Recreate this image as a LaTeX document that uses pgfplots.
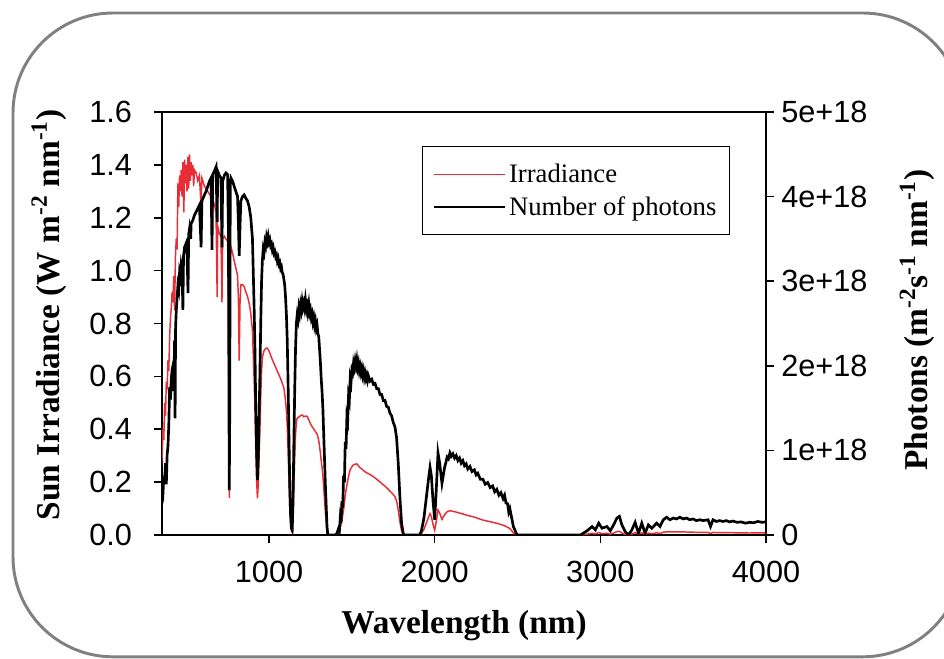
\documentclass[border=0pt]{standalone}
\usepackage{fontspec}
\setmainfont{Liberation Serif}
\newfontfamily\arialf{Liberation Sans}
\usepackage{pgfplots}
\pgfplotsset{compat=1.18}
\definecolor{irrred}{RGB}{232,45,55}
\definecolor{framegray}{RGB}{128,128,128}
\begin{document}
\begin{tikzpicture}
\path[use as bounding box] (0pt,0pt) rectangle (708pt,493.5pt);
\draw[framegray, line width=2.2pt, rounded corners=75pt] (9.75pt,0.9pt) rectangle (722pt,483.75pt);
\pgfplotsset{
  common/.style={
    at={(121.5pt,92.25pt)}, anchor=south west,
    width=453pt, height=317.25pt, scale only axis,
    xmin=354, xmax=4000,
    tick align=outside, major tick length=6pt,
    tick style={black, line width=1.2pt},
    ticklabel style={font=\arialf\fontsize{23}{27}\selectfont},
    label style={font=\bfseries\fontsize{25}{30}\selectfont},
  }
}
\begin{axis}[common,
  axis line style={line width=1pt},
  ymin=0, ymax=1.6,
  xtick={1000,2000,3000,4000}, xticklabels={1000,2000,3000,4000},
  ytick={0,0.2,0.4,0.6,0.8,1.0,1.2,1.4,1.6},
  yticklabels={0.0,0.2,0.4,0.6,0.8,1.0,1.2,1.4,1.6},
  xticklabel style={yshift=-10pt},
  yticklabel style={xshift=-13pt},
  xtick pos=bottom, ytick pos=left,
  xlabel={Wavelength (nm)},
  ylabel={Sun Irradiance (W m\textsuperscript{-2} nm\textsuperscript{-1})},
  xlabel style={at={(axis description cs:0.5,-0.232)}, anchor=base},
  ylabel style={at={(axis description cs:-0.1705,0.52)}, anchor=base},
]
\addplot[irrred, line width=1.1pt] coordinates {
(350,0.26) (355,0.30) (360,0.40) (365,0.36) (370,0.50) (375,0.45) (380,0.58) (385,0.55)
(390,0.66) (395,0.62) (400,0.75) (405,0.82) (410,0.86) (415,0.92) (420,0.88) (425,0.98)
(430,0.85) (435,1.05) (440,1.12) (445,1.08) (450,1.33) (455,1.24) (460,1.36) (465,1.30)
(470,1.38) (475,1.28) (480,1.41) (486,1.22) (490,1.42) (495,1.33) (500,1.40) (505,1.30)
(510,1.43) (515,1.31) (520,1.44) (525,1.34) (530,1.41) (535,1.36) (540,1.40) (545,1.32)
(550,1.38) (560,1.37) (570,1.34) (580,1.36) (589,1.25) (595,1.35) (610,1.32) (620,1.31)
(630,1.30) (640,1.29) (650,1.28) (656,1.10) (660,1.27) (670,1.25) (680,1.22) (687,0.90)
(690,1.17) (700,1.14) (710,1.13) (716,0.88) (720,1.12) (730,1.13) (740,1.12) (750,1.11)
(755,0.85) (760,0.14) (763,0.50) (766,1.05) (770,1.09) (780,1.066) (790,1.037) (800,1.009)
(810,0.982) (815,0.90) (820,0.66) (825,0.88) (830,0.946) (840,0.947) (850,0.940) (860,0.92)
(870,0.903) (880,0.877) (890,0.838) (900,0.773) (905,0.68) (910,0.59) (915,0.48) (920,0.324)
(925,0.21) (930,0.139) (935,0.19) (940,0.296) (945,0.40) (950,0.523) (955,0.62) (960,0.673)
(970,0.697) (980,0.706) (990,0.707) (1000,0.696) (1010,0.679) (1020,0.663) (1030,0.649)
(1040,0.635) (1050,0.619) (1060,0.606) (1070,0.591) (1080,0.574) (1090,0.556) (1100,0.506)
(1105,0.468) (1110,0.414) (1115,0.32) (1120,0.213) (1125,0.106) (1130,0.044) (1135,0.014)
(1140,0.010) (1145,0.07) (1150,0.19) (1155,0.29) (1160,0.377) (1165,0.427) (1170,0.442)
(1180,0.446) (1190,0.451) (1200,0.454) (1210,0.447) (1220,0.450) (1230,0.449) (1240,0.436)
(1250,0.421) (1260,0.410) (1270,0.401) (1280,0.391) (1290,0.382) (1300,0.359) (1305,0.335)
(1310,0.311) (1315,0.281) (1320,0.256) (1325,0.226) (1330,0.18) (1335,0.134) (1340,0.089)
(1345,0.052) (1350,0.015) (1355,0) (1400,0) (1410,0.003) (1420,0.011) (1430,0.028)
(1440,0.055) (1450,0.096) (1460,0.150) (1470,0.189) (1480,0.222) (1490,0.247) (1500,0.258)
(1510,0.266) (1520,0.268) (1530,0.269) (1540,0.262) (1550,0.254) (1560,0.250) (1570,0.244)
(1580,0.239) (1590,0.235) (1600,0.232) (1620,0.225) (1640,0.216) (1660,0.206) (1680,0.195)
(1700,0.185) (1720,0.173) (1740,0.160) (1760,0.145) (1770,0.129) (1780,0.095) (1790,0.050)
(1800,0.015) (1810,0.002) (1815,0) (1910,0) (1920,0.005) (1935,0.021) (1950,0.046)
(1965,0.071) (1972,0.081) (1980,0.070) (1990,0.040) (2000,0.018) (2010,0.054) (2020,0.095)
(2030,0.083) (2044,0.059) (2060,0.077) (2075,0.088) (2092,0.092) (2110,0.0895) (2130,0.0868)
(2150,0.0832) (2170,0.0797) (2190,0.0753) (2213,0.0719) (2240,0.0675) (2260,0.0633)
(2291,0.0564) (2320,0.0523) (2350,0.0482) (2375,0.0444) (2400,0.0398) (2413,0.0371)
(2430,0.0327) (2440,0.0293) (2454,0.0243) (2465,0.0161) (2475,0.008) (2484,0.0048)
(2495,0.001) (2500,0) (2880,0) (2920,0.0034) (2950,0.0067) (2970,0.004) (2990,0.0093)
(3010,0.0053) (3040,0.0065) (3060,0.0032) (3080,0.0077) (3100,0.0128) (3115,0.014)
(3130,0.0076) (3150,0.0025) (3170,0) (3190,0.0037) (3210,0.0093) (3230,0.0012) (3250,0.0086)
(3270,0.0012) (3290,0.0073) (3310,0.0048) (3340,0.0083) (3360,0.0059) (3380,0.0106)
(3400,0.0123) (3440,0.0116) (3480,0.012) (3520,0.0113) (3560,0.0106) (3600,0.0099)
(3650,0.0098) (3665,0.0054) (3680,0.0097) (3720,0.0091) (3760,0.009) (3800,0.0086)
(3850,0.008) (3900,0.0076) (3950,0.008) (4000,0.0077)
};
\end{axis}
\begin{axis}[common,
  axis x line=none, axis y line*=right,
  axis line style={line width=1pt},
  ymin=0, ymax=5,
  ytick={0,1,2,3,4,5},
  yticklabels={0,1e+18,2e+18,3e+18,4e+18,5e+18},
  yticklabel style={xshift=2pt},
  ylabel={Photons (m\textsuperscript{-2}s\textsuperscript{-1} nm\textsuperscript{-1})},
  ylabel style={at={(axis description cs:1.2666,0.508)}, anchor=base, rotate=0},
  legend style={at={(axis description cs:0.430,0.9196)}, anchor=north west,
    draw=black, line width=1pt, fill=white,
    font=\fontsize{20}{24}\selectfont,
    inner xsep=8pt, inner ysep=11pt, row sep=5pt,
    cells={anchor=west}},
  legend image code/.code={\draw[#1] (0pt,0pt) -- (45.75pt,0pt); \path (0pt,0pt) -- (53pt,0pt);},
]
\addlegendimage{irrred, line width=1pt}
\addlegendentry{Irradiance}
\addplot[black, line width=2pt] coordinates {
(350,0.45) (355,0.55) (360,0.50) (365,0.70) (370,0.62) (375,0.85) (380,0.60) (385,0.95)
(390,1.05) (395,1.30) (400,1.75) (405,1.60) (410,1.85) (415,1.95) (420,2.00) (425,1.70)
(430,2.30) (433,1.38) (436,2.45) (440,2.65) (445,2.80) (450,2.95) (455,2.90) (460,3.10)
(465,3.05) (470,3.20) (475,3.15) (480,2.66) (484,3.30) (490,3.40) (500,3.45) (505,3.35)
(511,2.86) (515,3.55) (520,3.62) (527,3.50) (530,3.68) (540,3.72) (550,3.78) (560,3.82)
(570,3.86) (580,3.90) (590,3.40) (595,3.95) (610,4.02) (620,4.06) (630,4.12) (640,4.18)
(650,4.22) (656,3.37) (660,4.26) (670,4.30) (680,4.35) (687,3.70) (690,4.30) (700,4.25)
(710,4.22) (716,3.40) (720,4.18) (730,4.25) (740,4.28) (750,4.26) (755,3.60) (760,0.53)
(763,1.50) (766,4.15) (770,4.22) (780,4.18) (790,4.12) (800,4.06) (810,4.00) (815,3.70)
(820,3.30) (825,3.65) (830,3.95) (840,4.00) (850,4.02) (860,3.98) (870,3.95) (880,3.88)
(890,3.75) (900,3.50) (905,3.10) (910,2.70) (915,2.20) (920,1.50) (925,1.00) (930,0.65)
(935,0.90) (940,1.40) (945,1.90) (950,2.50) (955,3.00) (960,3.25) (965,3.38) (970,3.34)
(975,3.46) (980,3.42) (985,3.52) (990,3.47) (995,3.53) (1000,3.46) (1005,3.49) (1010,3.42)
(1015,3.44) (1020,3.37) (1025,3.40) (1030,3.33) (1035,3.35) (1040,3.29) (1045,3.31)
(1050,3.24) (1055,3.27) (1060,3.20) (1065,3.22) (1070,3.15) (1075,3.17) (1080,3.10)
(1085,3.08) (1090,3.02) (1095,2.95) (1100,2.80) (1105,2.60) (1110,2.30)
(1115,1.80) (1120,1.20) (1125,0.60) (1130,0.25) (1135,0.08) (1140,0.06) (1145,0.40)
(1150,1.10) (1155,1.70) (1160,2.20) (1165,2.50) (1170,2.60) (1175,2.55) (1180,2.68)
(1185,2.62) (1190,2.72) (1195,2.66) (1200,2.76) (1205,2.69) (1210,2.74) (1215,2.68)
(1220,2.78) (1225,2.70) (1230,2.79) (1235,2.66) (1240,2.73) (1245,2.62) (1250,2.66)
(1255,2.57) (1260,2.61) (1265,2.52) (1270,2.57) (1275,2.48) (1280,2.53) (1285,2.44)
(1290,2.48) (1295,2.38) (1300,2.35) (1305,2.20) (1310,2.05) (1315,1.85)
(1320,1.70) (1325,1.50) (1330,1.20) (1335,0.90) (1340,0.60) (1345,0.35) (1350,0.10)
(1355,0) (1400,0) (1410,0.02) (1420,0.08) (1425,0.05) (1430,0.20) (1435,0.14) (1440,0.40)
(1445,0.32) (1450,0.70) (1455,0.62) (1460,1.10) (1465,1.02) (1470,1.40) (1475,1.35)
(1480,1.65) (1485,1.60) (1490,1.85) (1495,1.80) (1500,1.95) (1505,1.92) (1510,2.03)
(1515,1.98) (1520,2.06) (1525,2.00) (1530,2.07) (1535,1.98) (1540,2.03) (1545,1.94)
(1550,1.99) (1555,1.92) (1560,1.97) (1565,1.89) (1570,1.94) (1575,1.86) (1580,1.91)
(1585,1.85) (1590,1.89) (1595,1.83) (1600,1.88) (1610,1.82) (1620,1.84) (1630,1.78)
(1640,1.79) (1650,1.73) (1660,1.73) (1670,1.66) (1680,1.66) (1690,1.59) (1700,1.59)
(1710,1.52) (1720,1.51) (1730,1.44) (1740,1.41) (1750,1.33) (1760,1.28) (1770,1.15)
(1780,0.85) (1790,0.45) (1800,0.14) (1810,0.02) (1815,0)
(1910,0) (1920,0.05) (1935,0.20) (1950,0.45) (1965,0.70) (1972,0.80) (1980,0.70)
(1990,0.40) (2000,0.18) (2010,0.55) (2020,0.97) (2030,0.85) (2044,0.61) (2060,0.80)
(2068,0.86) (2075,0.92) (2083,0.90) (2092,0.97) (2100,0.93) (2110,0.96) (2120,0.91)
(2130,0.94) (2140,0.88) (2150,0.91) (2160,0.85) (2170,0.88) (2180,0.82) (2190,0.84)
(2200,0.78) (2213,0.81) (2225,0.75) (2240,0.77) (2250,0.71) (2260,0.73) (2275,0.66)
(2291,0.66) (2305,0.60) (2320,0.62) (2335,0.56) (2350,0.58) (2362,0.51) (2375,0.54)
(2388,0.47) (2400,0.50) (2413,0.43) (2422,0.47) (2430,0.38) (2440,0.37) (2447,0.27)
(2454,0.31) (2465,0.20) (2475,0.10)
(2484,0.06) (2495,0.01) (2500,0) (2880,0) (2920,0.05) (2950,0.10) (2970,0.06) (2990,0.14)
(3010,0.08) (3040,0.10) (3060,0.05) (3080,0.12) (3100,0.20) (3115,0.22) (3130,0.12)
(3150,0.04) (3170,0) (3190,0.06) (3210,0.15) (3230,0.02) (3250,0.14) (3270,0.02)
(3290,0.12) (3310,0.08) (3340,0.14) (3360,0.10) (3380,0.18) (3400,0.21) (3420,0.18)
(3440,0.20) (3460,0.19) (3480,0.21) (3500,0.19) (3520,0.20) (3540,0.18) (3560,0.19)
(3580,0.17) (3600,0.18) (3620,0.17) (3650,0.18) (3665,0.10) (3680,0.18) (3700,0.16)
(3720,0.17) (3740,0.16) (3760,0.17) (3780,0.155) (3800,0.165) (3825,0.15) (3850,0.155)
(3875,0.14) (3900,0.15) (3925,0.145) (3950,0.16) (3975,0.15) (4000,0.155)
};
\addlegendentry{Number of photons}
\end{axis}
\end{tikzpicture}
\end{document}
